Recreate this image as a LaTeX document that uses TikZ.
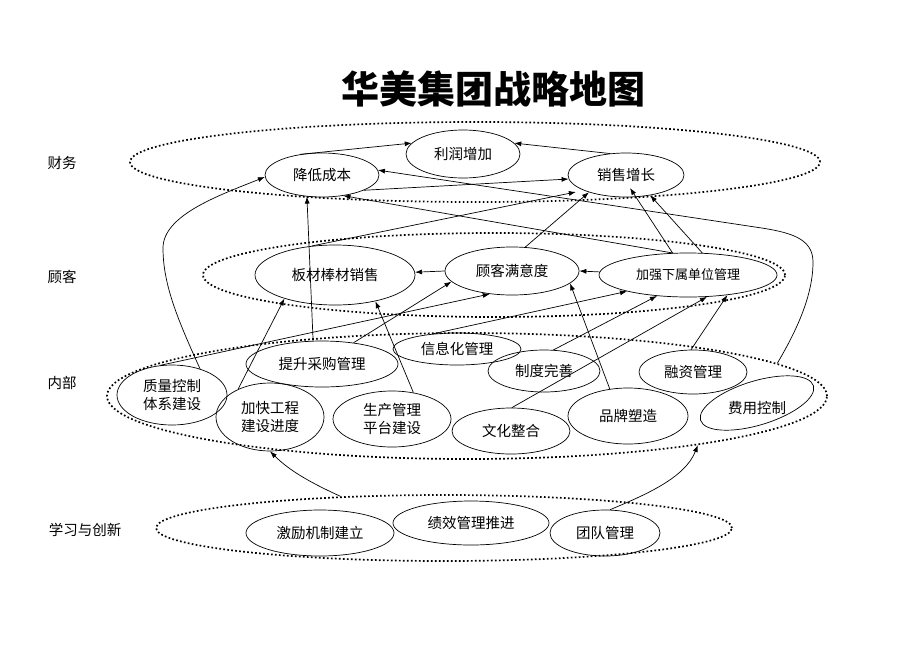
\documentclass[tikz,border=0pt]{standalone}
\usepackage{fontspec}
\setmainfont{Noto Sans CJK SC}
\usetikzlibrary{shapes.geometric,arrows.meta,calc}
\begin{document}
\begin{tikzpicture}[x=1pt,y=-1pt,
  nd/.style={draw, ellipse, line width=0.7pt, inner sep=0pt, align=center, font=\fontsize{14.5}{18.5}\selectfont},
  sz/.style 2 args={minimum width=#1pt, minimum height=#2pt},
  grp/.style={draw, ellipse, line width=1.7pt, dash pattern=on 1.7pt off 2.3pt, inner sep=0pt},
  lbl/.style={inner sep=0pt, font=\fontsize{14.5}{17}\selectfont},
  arr/.style={draw, line width=0.7pt, -{Latex[length=7pt,width=5pt]}},
]
\useasboundingbox (0,0) rectangle (920,651);

\node[inner sep=0pt, font=\fontsize{38}{40}\selectfont\bfseries] (title) at (493,89) {华美集团战略地图};

% group ellipses
\node[grp, sz={690}{80}] (caiwu) at (475,162) {};
\node[grp, sz={582}{84}] (guke) at (494,275) {};
\node[grp, sz={720}{126}] (neibu) at (467,396) {};
\node[grp, sz={576}{66}] (xuexi) at (444,528) {};

% side labels
\node[lbl] (l1) at (62,163) {财务};
\node[lbl] (l2) at (62,277) {顾客};
\node[lbl] (l3) at (62,383) {内部};
\node[lbl] (l4) at (85,530) {学习与创新};

% finance
\node[nd, sz={114}{48}] (lirun) at (463,154) {利润增加};
\node[nd, sz={114}{44}] (jiangdi) at (322,175) {降低成本};
\node[nd, sz={116}{44}] (xiaoshou) at (626,175) {销售增长};

% customer
\node[nd, sz={160}{60}] (bancai) at (335,275) {板材棒材销售};
\node[nd, sz={134}{48}] (manyi) at (512,271) {顾客满意度};
\node[nd, sz={178}{44}, font=\fontsize{13}{16}\selectfont] (jiaqiang) at (688,275) {加强下属单位管理};

% internal
\node[nd, sz={110}{60}] (zhiliang) at (172,395) {质量控制\\体系建设};
\node[nd, sz={152}{46}] (caigou) at (322,364) {提升采购管理};
\node[nd, sz={108}{68}] (jiakuai) at (270,417) {加快工程\\建设进度};
\node[nd, sz={118}{56}] (shengchan) at (392,419) {生产管理\\平台建设};
\node[nd, sz={128}{32}] (xinxi) at (457,349) {信息化管理};
\node[nd, sz={112}{42}] (zhidu) at (544,371) {制度完善};
\node[nd, sz={118}{46}] (wenhua) at (511,431) {文化整合};
\node[nd, sz={120}{56}] (pinpai) at (628,416) {品牌塑造};
\node[nd, sz={108}{44}] (rongzi) at (693,372) {融资管理};
\node[nd, sz={118}{44}, rotate=17] (feiyong) at (757,403) {};
\node[lbl] (feiyongt) at (757,408) {费用控制};

% learning
\node[nd, sz={148}{46}] (jili) at (320,533) {激励机制建立};
\node[nd, sz={156}{44}] (jixiao) at (471,523) {绩效管理推进};
\node[nd, sz={110}{46}] (tuandui) at (605,533) {团队管理};

% connectors
\draw[arr] (jiangdi.137) -- (lirun.168);
\draw[arr] (xiaoshou.127) -- (lirun.12);
\draw[arr] (jiangdi.340) -- (xiaoshou.184);
\draw[arr] (neibu.6) .. controls (797,330) and (813,295) .. (813,262) .. controls (813,238) and (790,232) .. (755,227) -- (jiangdi.5);
\draw[arr] (jiaqiang.125) -- (jiangdi.316);
\draw[arr] (jiaqiang.125) -- ([xshift=4pt,yshift=-13pt]xiaoshou.center);
\draw[arr] (jiaqiang.57) -- (xiaoshou.320);
\draw[arr] (manyi.61) -- (xiaoshou.205);
\draw[arr] (manyi.180) -- (bancai.2);
\draw[arr] (jiaqiang.178) -- (manyi.0);
\draw[arr, shorten >=8pt] (bancai.128) -- (xiaoshou.200);
\draw[arr] (zhiliang.43) .. controls (178,320) and (163,285) .. (163,248) .. controls (163,215) and (220,195) .. (jiangdi.182);
\draw[arr] (zhiliang.112) -- (manyi.226);
\draw[arr] (jiakuai.139) -- (bancai.205);
\draw[arr] (caigou.111) -- (jiangdi.235);
\draw[arr] (caigou.34) -- (manyi.190);
\draw[arr] (shengchan.51) -- (bancai.327);
\draw[arr] (xinxi.148) -- (jiaqiang.195);
\draw[arr] (zhidu.66) -- (jiaqiang.214);
\draw[arr] (wenhua.88) -- (jiaqiang.311);
\draw[arr] (rongzi.95) -- (jiaqiang.333);
\draw[arr] (pinpai.124) -- (manyi.348);
\draw[arr] (xuexi.163) .. controls (300,478) and (285,466) .. (jiakuai.south);
\draw[arr] (tuandui.78) .. controls (645,495) and (685,478) .. (neibu.348);
\end{tikzpicture}
\end{document}
